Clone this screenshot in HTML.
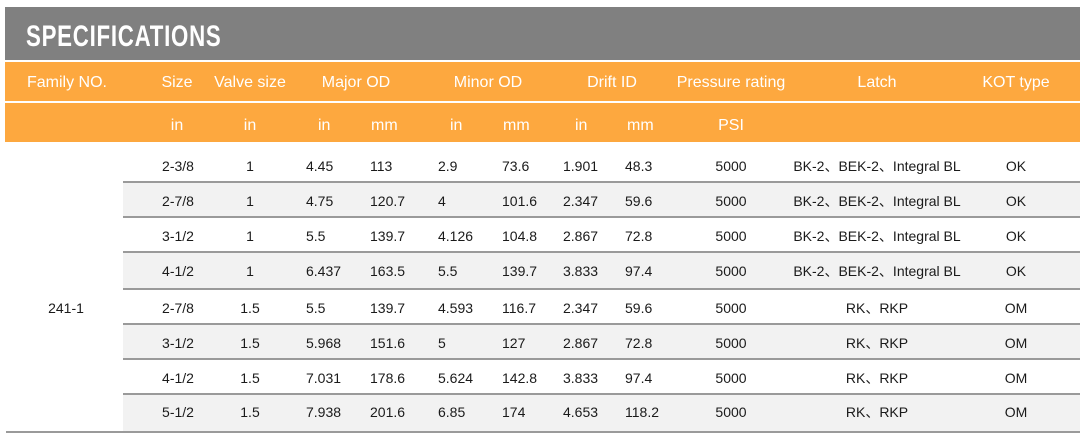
<!DOCTYPE html>
<html>
<head>
<meta charset="utf-8">
<style>
html,body{margin:0;padding:0;background:#fff;}
body{width:1086px;height:441px;position:relative;overflow:hidden;font-family:"Liberation Sans","Noto Sans CJK SC",sans-serif;}
.title{position:absolute;left:5px;top:7px;width:1075px;height:53px;background:#808080;}
.title span{position:absolute;left:21px;top:12px;font-size:30px;font-weight:bold;color:#fff;line-height:36px;letter-spacing:1px;transform:scaleX(0.742);transform-origin:left center;white-space:nowrap;}
.ob{position:absolute;left:5px;width:1075px;background:#fda83f;}
.h{position:absolute;color:#fff;font-size:16px;white-space:nowrap;height:20px;line-height:20px;}
.hc{text-align:center;width:140px;}
.row{position:absolute;left:0;width:1086px;height:34px;line-height:34px;font-size:14px;color:#1a1a1a;}
.row div{position:absolute;top:0;white-space:nowrap;}
.c{text-align:center;width:100px;}
.cw{text-align:center;width:220px;}
.gb{position:absolute;left:123px;width:957px;background:#f2f2f2;}
.ln{position:absolute;left:123px;width:957px;height:2px;background:#9a9a9a;}
</style>
</head>
<body>
<div class="title"><span>SPECIFICATIONS</span></div>
<div class="ob" style="top:62px;height:39px;"></div>
<div class="ob" style="top:103px;height:39px;"></div>

<!-- header row 1 -->
<div class="h hc" style="left:-3px;top:73px;">Family NO.</div>
<div class="h hc" style="left:107px;top:73px;">Size</div>
<div class="h hc" style="left:180px;top:73px;">Valve size</div>
<div class="h hc" style="left:286px;top:73px;">Major OD</div>
<div class="h hc" style="left:418px;top:73px;">Minor OD</div>
<div class="h hc" style="left:542px;top:73px;">Drift ID</div>
<div class="h hc" style="left:661px;top:73px;">Pressure rating</div>
<div class="h hc" style="left:807px;top:73px;">Latch</div>
<div class="h hc" style="left:946px;top:73px;">KOT type</div>

<!-- header row 2 -->
<div class="h hc" style="left:107px;top:116px;">in</div>
<div class="h hc" style="left:180px;top:116px;">in</div>
<div class="h" style="left:318px;top:116px;">in</div>
<div class="h" style="left:371px;top:116px;">mm</div>
<div class="h" style="left:450px;top:116px;">in</div>
<div class="h" style="left:503px;top:116px;">mm</div>
<div class="h" style="left:575px;top:116px;">in</div>
<div class="h" style="left:627px;top:116px;">mm</div>
<div class="h hc" style="left:661px;top:116px;">PSI</div>

<!-- gray row backgrounds -->
<div class="gb" style="top:182px;height:34px;"></div>
<div class="gb" style="top:252px;height:36px;"></div>
<div class="gb" style="top:324px;height:35px;"></div>
<div class="gb" style="top:394px;height:37px;"></div>

<!-- lines -->
<div class="ln" style="top:181px;"></div>
<div class="ln" style="top:216px;"></div>
<div class="ln" style="top:251px;"></div>
<div class="ln" style="top:288px;"></div>
<div class="ln" style="top:323px;"></div>
<div class="ln" style="top:358px;"></div>
<div class="ln" style="top:393px;"></div>
<div class="ln" style="top:431px;left:6px;width:1074px;"></div>

<!-- family -->
<div class="row" style="top:291px;"><div class="c" style="left:16px;">241-1</div></div>

<!-- data rows -->
<div class="row" style="top:149px;">
<div class="c" style="left:128px;">2-3/8</div><div class="c" style="left:200px;">1</div>
<div style="left:306px;">4.45</div><div style="left:370px;">113</div>
<div style="left:438px;">2.9</div><div style="left:502px;">73.6</div>
<div style="left:563px;">1.901</div><div style="left:625px;">48.3</div>
<div class="c" style="left:681px;">5000</div><div class="cw" style="left:767px;">BK-2、BEK-2、Integral BL</div>
<div class="c" style="left:966px;">OK</div></div>

<div class="row" style="top:184px;">
<div class="c" style="left:128px;">2-7/8</div><div class="c" style="left:200px;">1</div>
<div style="left:306px;">4.75</div><div style="left:370px;">120.7</div>
<div style="left:438px;">4</div><div style="left:502px;">101.6</div>
<div style="left:563px;">2.347</div><div style="left:625px;">59.6</div>
<div class="c" style="left:681px;">5000</div><div class="cw" style="left:767px;">BK-2、BEK-2、Integral BL</div>
<div class="c" style="left:966px;">OK</div></div>

<div class="row" style="top:219px;">
<div class="c" style="left:128px;">3-1/2</div><div class="c" style="left:200px;">1</div>
<div style="left:306px;">5.5</div><div style="left:370px;">139.7</div>
<div style="left:438px;">4.126</div><div style="left:502px;">104.8</div>
<div style="left:563px;">2.867</div><div style="left:625px;">72.8</div>
<div class="c" style="left:681px;">5000</div><div class="cw" style="left:767px;">BK-2、BEK-2、Integral BL</div>
<div class="c" style="left:966px;">OK</div></div>

<div class="row" style="top:254px;">
<div class="c" style="left:128px;">4-1/2</div><div class="c" style="left:200px;">1</div>
<div style="left:306px;">6.437</div><div style="left:370px;">163.5</div>
<div style="left:438px;">5.5</div><div style="left:502px;">139.7</div>
<div style="left:563px;">3.833</div><div style="left:625px;">97.4</div>
<div class="c" style="left:681px;">5000</div><div class="cw" style="left:767px;">BK-2、BEK-2、Integral BL</div>
<div class="c" style="left:966px;">OK</div></div>

<div class="row" style="top:291px;">
<div class="c" style="left:128px;">2-7/8</div><div class="c" style="left:200px;">1.5</div>
<div style="left:306px;">5.5</div><div style="left:370px;">139.7</div>
<div style="left:438px;">4.593</div><div style="left:502px;">116.7</div>
<div style="left:563px;">2.347</div><div style="left:625px;">59.6</div>
<div class="c" style="left:681px;">5000</div><div class="cw" style="left:767px;">RK、RKP</div>
<div class="c" style="left:966px;">OM</div></div>

<div class="row" style="top:326px;">
<div class="c" style="left:128px;">3-1/2</div><div class="c" style="left:200px;">1.5</div>
<div style="left:306px;">5.968</div><div style="left:370px;">151.6</div>
<div style="left:438px;">5</div><div style="left:502px;">127</div>
<div style="left:563px;">2.867</div><div style="left:625px;">72.8</div>
<div class="c" style="left:681px;">5000</div><div class="cw" style="left:767px;">RK、RKP</div>
<div class="c" style="left:966px;">OM</div></div>

<div class="row" style="top:361px;">
<div class="c" style="left:128px;">4-1/2</div><div class="c" style="left:200px;">1.5</div>
<div style="left:306px;">7.031</div><div style="left:370px;">178.6</div>
<div style="left:438px;">5.624</div><div style="left:502px;">142.8</div>
<div style="left:563px;">3.833</div><div style="left:625px;">97.4</div>
<div class="c" style="left:681px;">5000</div><div class="cw" style="left:767px;">RK、RKP</div>
<div class="c" style="left:966px;">OM</div></div>

<div class="row" style="top:395px;">
<div class="c" style="left:128px;">5-1/2</div><div class="c" style="left:200px;">1.5</div>
<div style="left:306px;">7.938</div><div style="left:370px;">201.6</div>
<div style="left:438px;">6.85</div><div style="left:502px;">174</div>
<div style="left:563px;">4.653</div><div style="left:625px;">118.2</div>
<div class="c" style="left:681px;">5000</div><div class="cw" style="left:767px;">RK、RKP</div>
<div class="c" style="left:966px;">OM</div></div>

</body>
</html>
